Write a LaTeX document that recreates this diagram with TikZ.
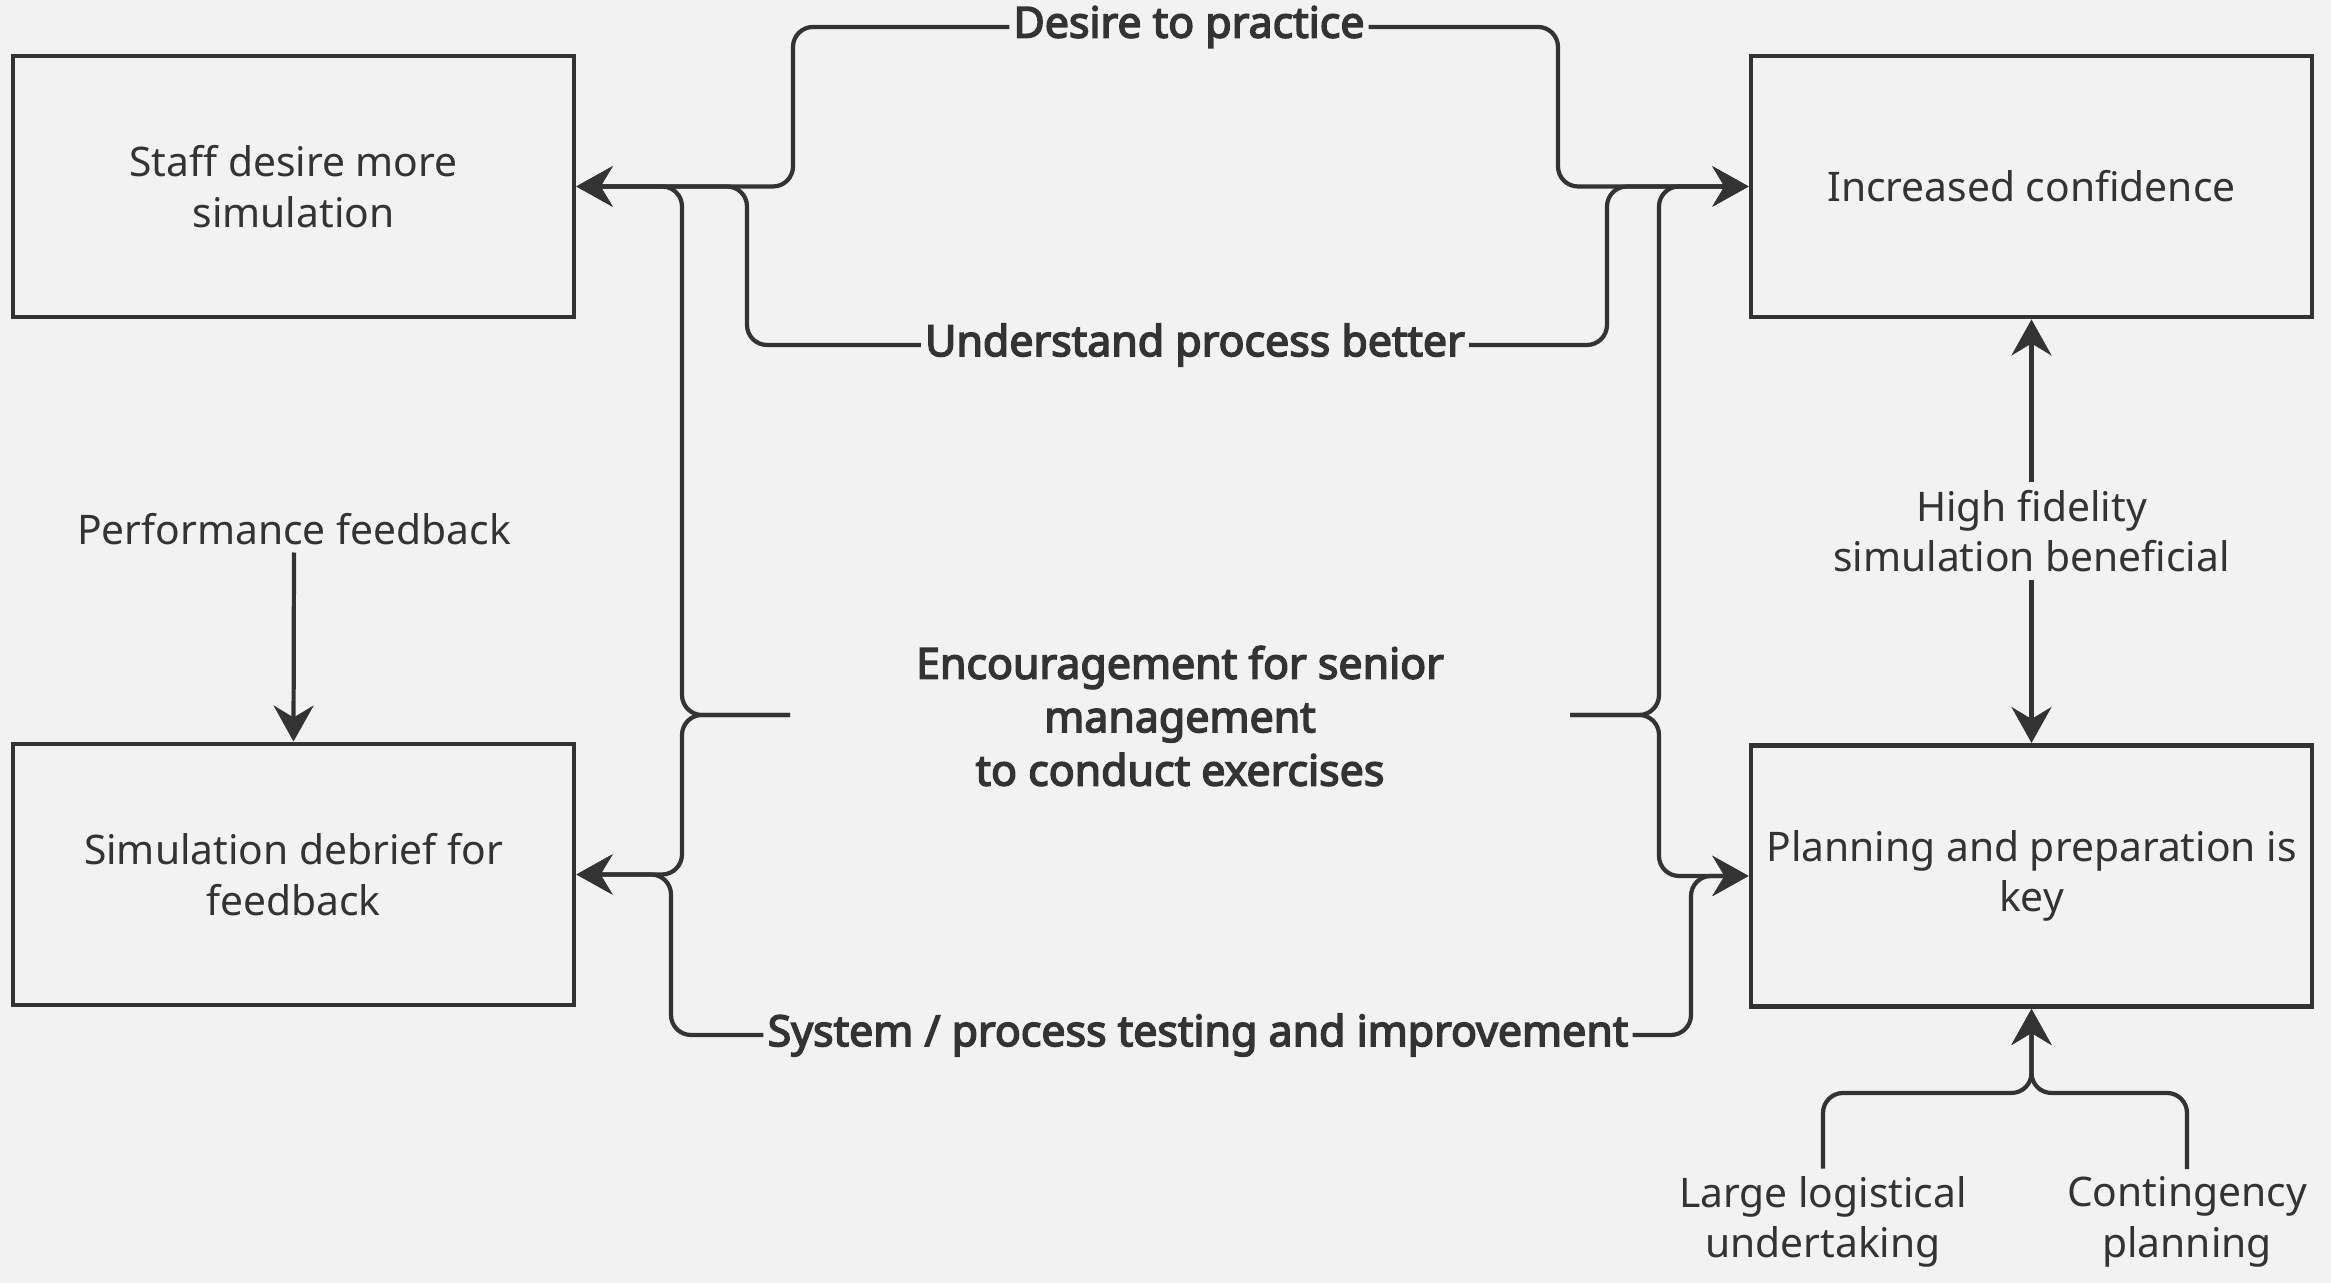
\documentclass[tikz,border=0pt]{standalone}
\usepackage{fontspec}
\setmainfont{Noto Sans}[BoldFont={Noto Sans}, BoldFeatures={FakeBold=3.5}]
\usetikzlibrary{arrows.meta}
\definecolor{bg}{HTML}{F2F2F2}
\definecolor{ink}{HTML}{333333}
\tikzset{
  box/.style={draw=ink, line width=1.4pt, minimum width=5.61cm, minimum height=2.61cm, align=center, text=ink, inner sep=3pt},
  txt/.style={align=center, text=ink, inner sep=2pt},
  lbl/.style={align=center, text=ink, font=\bfseries\fontsize{12.2}{15.2}\selectfont, inner sep=1pt},
  link/.style={draw=ink, line width=1.2pt, rounded corners=0.2cm},
  tip/.style={-{Stealth[length=3.6mm,width=4mm,inset=1.2mm]}}
}
\begin{document}
\begin{tikzpicture}
                \useasboundingbox [fill=bg] (0,0) rectangle (23.31,12.83);
                {\fontsize{11.6}{14.4}\selectfont
                
                % Drawing boxes
                \draw (2.935,10.965) node [box] (staff) {Staff desire more\\simulation};%
                \draw (20.315,10.965) node [box] (conf) {Increased confidence};%
                \draw (2.935,4.085) node [box] (debrief) {Simulation debrief for\\feedback};%
                \draw (20.315,4.070) node [box] (plan) {Planning and preparation is\\key};%
                
                % Marking free texts
                \draw (2.940,7.540) node [txt] (perf) {Performance feedback};%
                \draw (20.315,7.520) node [txt] (hifi) {High fidelity\\simulation beneficial};%
                \draw (18.230,0.610) node [txt] (large) {Large logistical\\undertaking};%
                \draw (21.870,0.610) node [txt] (cont) {Contingency\\planning};%
                
                % Marking edge labels
                \draw (11.890,12.560) node [lbl] (desire) {Desire to practice};%
                \draw (11.950,9.380) node [lbl] (underst) {Understand process better};%
                \draw (11.800,5.670) node [lbl] (enc) {Encouragement for senior\\management\\to conduct exercises};%
                \draw (11.980,2.480) node [lbl] (system) {System / process testing and improvement};%
                \coordinate (encl) at (7.900,5.680);%
                \coordinate (encr) at (15.700,5.680);%
                
                % Drawing edge desire
                \draw [link,tip] (desire.west) -- (7.930,12.560) -- (7.930,10.965) -- (staff.east);%
                \draw [link,tip] (desire.east) -- (15.580,12.560) -- (15.580,10.965) -- (conf.west);%
                
                % Drawing edge understand
                \draw [link,tip] (underst.west) -- (7.470,9.380) -- (7.470,10.965) -- (staff.east);%
                \draw [link,tip] (underst.east) -- (16.070,9.380) -- (16.070,10.965) -- (conf.west);%
                
                % Drawing edge encouragement
                \draw [link,tip] (encl) -- (6.820,5.680) -- (6.820,10.965) -- (staff.east);%
                \draw [link,tip] (encl) -- (6.820,5.680) -- (6.820,4.085) -- (debrief.east);%
                \draw [link,tip] (encr) -- (16.590,5.680) -- (16.590,10.965) -- (conf.west);%
                \draw [link,tip] (encr) -- (16.590,5.680) -- (16.590,4.070) -- (plan.west);%
                
                % Drawing edge system
                \draw [link,tip] (system.west) -- (6.710,2.480) -- (6.710,4.085) -- (debrief.east);%
                \draw [link,tip] (system.east) -- (16.910,2.480) -- (16.910,4.070) -- (plan.west);%
                
                % Drawing vertical arrows
                \draw [link,tip] (perf.south) -- (debrief.north);%
                \draw [link,tip] (hifi.north) -- (conf.south);%
                \draw [link,tip] (hifi.south) -- (plan.north);%
                \draw [link,tip] (large.north) -- (18.230,1.900) -- (20.315,1.900) -- (plan.south);%
                \draw [link,tip] (cont.north) -- (21.870,1.900) -- (20.315,1.900) -- (plan.south);%
                }
            \end{tikzpicture}
\end{document}
